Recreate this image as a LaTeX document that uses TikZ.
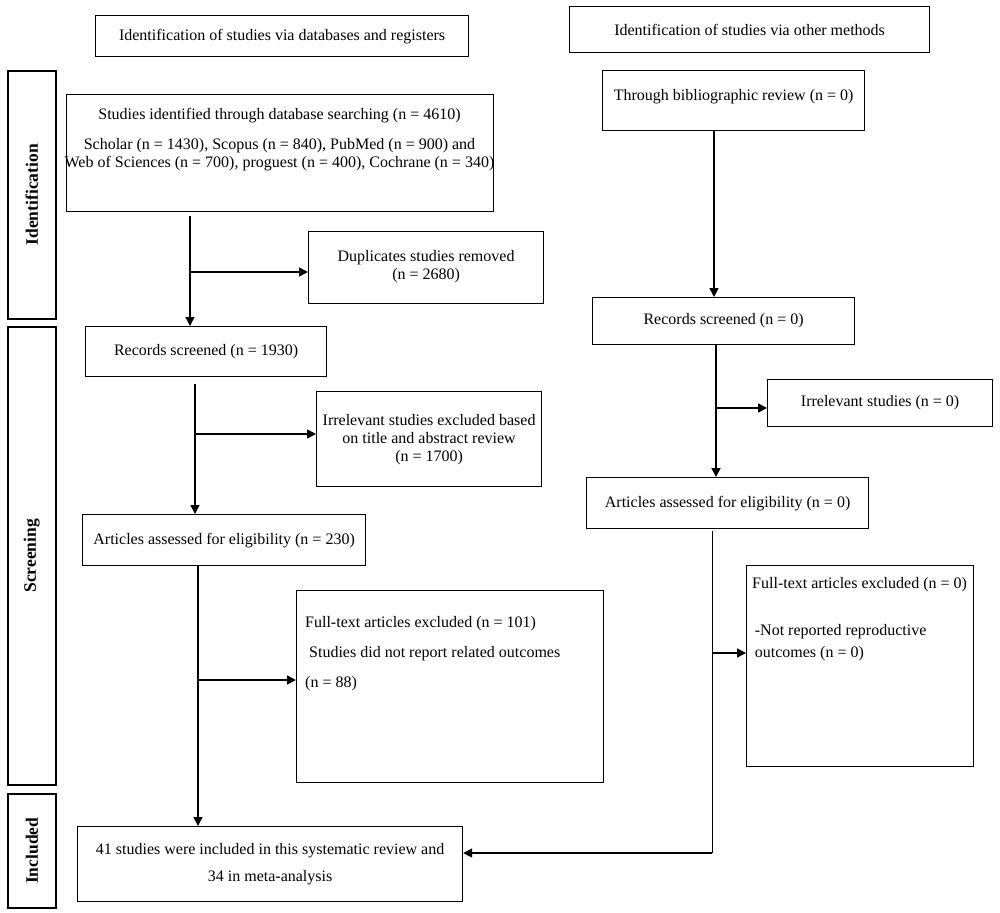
\documentclass[tikz,border=0pt]{standalone}
\usepackage{fontspec}
\setmainfont{Liberation Serif}
\usetikzlibrary{arrows.meta}
\begin{document}
\begin{tikzpicture}[x=1pt,y=-1pt,
  box/.style={draw, line width=1.2pt, inner sep=0pt, anchor=north west},
  txt/.style={inner sep=0pt, font=\fontsize{16}{18}\selectfont},
  side/.style={inner sep=0pt, font=\fontsize{17.5}{20}\selectfont\bfseries, rotate=90},
  arr/.style={line width=1.6pt, -{Triangle[length=9pt,width=9pt]}},
  ln/.style={line width=1.6pt},
  thin/.style={line width=0.8pt}]
\useasboundingbox (0,0) rectangle (1000,912);
% headers
\node[box, minimum width=373pt, minimum height=41pt] (H1) at (95,15) {};
\node[txt] (H1t) at (H1.center) {Identification of studies via databases and registers};
\node[box, minimum width=360pt, minimum height=46pt] (H2) at (569,6) {};
\node[txt] (H2t) at (H2.center) {Identification of studies via other methods};
% side labels
\node[box, line width=1.6pt, minimum width=48pt, minimum height=248pt] (S1) at (7,70) {};
\node[side] (S1t) at (S1.center) {Identification};
\node[box, line width=1.6pt, minimum width=48pt, minimum height=458pt] (S2) at (7,326) {};
\node[side] (S2t) at (S2.center) {Screening};
\node[box, line width=1.6pt, minimum width=48pt, minimum height=114pt] (S3) at (7,793) {};
\node[side] (S3t) at (S3.center) {Included};
% left column
\node[box, minimum width=427pt, minimum height=117pt] (A) at (66,94) {};
\node[txt, align=center, anchor=north] (At) at (279.5,108) {Studies identified through database searching (n = 4610)\\[12pt]
Scholar (n = 1430), Scopus (n = 840), PubMed (n = 900) and\\
Web of Sciences (n = 700), proguest (n = 400), Cochrane (n = 340)};
\node[box, minimum width=235pt, minimum height=72pt] (D) at (308,231) {};
\node[txt, align=center] (Dt) at ([yshift=1pt]D.center) {Duplicates studies removed\\(n = 2680)};
\node[box, minimum width=241pt, minimum height=50pt] (R1) at (85,326) {};
\node[txt] (R1t) at (R1.center) {Records screened (n = 1930)};
\node[box, minimum width=225pt, minimum height=95pt] (I1) at (316,391) {};
\node[txt, align=center] (I1t) at ([yshift=-1pt]I1.center) {Irrelevant studies excluded based\\on title and abstract review\\(n = 1700)};
\node[box, minimum width=283pt, minimum height=51pt] (E1) at (82,514) {};
\node[txt] (E1t) at (E1.center) {Articles assessed for eligibility (n = 230)};
\node[box, minimum width=307pt, minimum height=192pt] (F1) at (296,590) {};
\node[txt, align=left, anchor=north west] (F1t) at (305,616) {Full-text articles excluded (n = 101)\\[12pt]
\ Studies did not report related outcomes\\[12pt]
(n = 88)};
\node[box, minimum width=385pt, minimum height=75pt] (Inc) at (77,826) {};
\node[txt, align=center] (Inct) at (Inc.center) {41 studies were included in this systematic review and\\[9pt]34 in meta-analysis};
% right column
\node[box, minimum width=262pt, minimum height=60pt] (T) at (602,70) {};
\node[txt] (Tt) at ([yshift=4pt]T.center) {Through bibliographic review (n = 0)};
\node[box, minimum width=262pt, minimum height=47pt] (R2) at (592,297) {};
\node[txt] (R2t) at (R2.center) {Records screened (n = 0)};
\node[box, minimum width=225pt, minimum height=47pt] (I2) at (767,379) {};
\node[txt] (I2t) at (I2.center) {Irrelevant studies (n = 0)};
\node[box, minimum width=282pt, minimum height=51pt] (E2) at (586,477) {};
\node[txt] (E2t) at (E2.center) {Articles assessed for eligibility (n = 0)};
\node[box, minimum width=227pt, minimum height=201pt] (F2) at (746,565) {};
\node[txt, align=left, anchor=north west] (F2t) at (752,577) {Full-text articles excluded (n = 0)\\[29pt]
\,-Not reported reproductive\\[4pt]
\,outcomes (n = 0)};
% connector guides
\coordinate (c1) at (190,0);
\coordinate (c2) at (195,0);
\coordinate (c3) at (198,0);
\coordinate (c4) at (714,0);
\coordinate (c5) at (716,0);
\coordinate (c6) at (712,0);
\coordinate (y1) at (0,272);
\coordinate (y2) at (0,434);
\coordinate (y3) at (0,680);
\coordinate (y4) at (0,408);
\coordinate (y5) at (0,653);
\coordinate (y6) at (0,853);
% left connectors
\draw[arr] ([yshift=-4pt]A.south -| c1) -- (R1.north -| c1);
\draw[arr] (c1 |- y1) -- (D.west |- y1);
\draw[arr] ([yshift=-7pt]R1.south -| c2) -- (E1.north -| c2);
\draw[arr] (c2 |- y2) -- (I1.west |- y2);
\draw[arr] (E1.south -| c3) -- (Inc.north -| c3);
\draw[arr] (c3 |- y3) -- (F1.west |- y3);
% right connectors
\draw[arr] (T.south -| c4) -- (R2.north -| c4);
\draw[arr] (R2.south -| c5) -- (E2.north -| c5);
\draw[arr] (c5 |- y4) -- (I2.west |- y4);
\draw[thin] ([yshift=-2pt]E2.south -| c6) -- (c6 |- y6);
\draw[arr] (c6 |- y6) -- (Inc.east |- y6);
\draw[arr] (c6 |- y5) -- (F2.west |- y5);
\end{tikzpicture}
\end{document}
